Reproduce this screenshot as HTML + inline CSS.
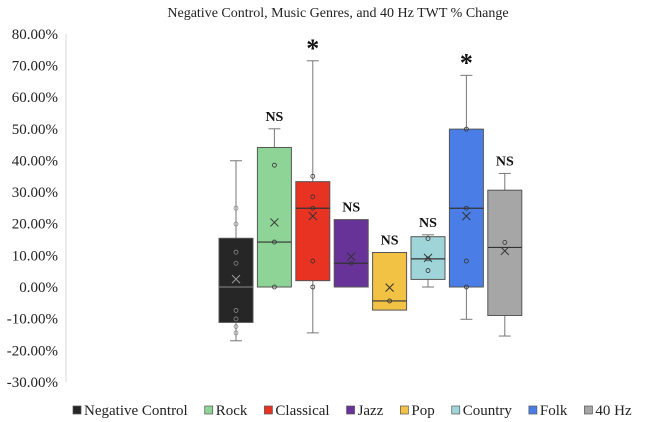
<!DOCTYPE html>
<html><head><meta charset="utf-8"><style>
body{margin:0;background:#fff}
svg{display:block;font-family:"Liberation Serif",serif}
</style></head><body>
<svg id="chart" width="672" height="422">
<text x="338" y="17" text-anchor="middle" font-size="14" fill="#222">Negative Control, Music Genres, and 40 Hz TWT % Change</text>
<g id="yaxis"></g>
<g id="boxes"></g>
<g id="legend"></g>
</svg>
<script>
const categories=["Negative Control","Rock","Classical","Jazz","Pop","Country","Folk","40 Hz"];
const colors=["#262626","#8fd497","#e83323","#673399","#f2c244","#9fd4d9","#4a7ee6","#a6a6a6"];
const whiskerLow=[-17,0,-14.5,0,-7.3,0,-10.2,-15.5];
const q1=[-11.2,0,2,0,-7.3,2.4,0,-9];
const medians=[0,14.2,24.9,7.5,-4.4,8.9,24.9,12.5];
const q3=[15.4,44.1,33.3,21.3,10.9,15.9,49.9,30.6];
const whiskerHigh=[39.9,50,71.5,21.3,10.9,16.5,66.9,35.9];
const means=[2.5,20.4,22.4,9.6,-0.2,9.2,22.4,11.4];
const points=[[24.9,19.9,11,7.5,-7.4,-10.1,-12.5,-14.5],[38.5,14.2,0],[35,28.5,24.9,8.2,0],[7.5],[-4.4],[15.3,8.9,5.2],[49.9,24.9,8.2,0],[14.1]];
const annotations=["","NS","*","NS","NS","NS","*","NS"];
const yTicks=[80,70,60,50,40,30,20,10,0,-10,-20,-30];
const NS="http://www.w3.org/2000/svg";
const y=v=>287-v*3.164;
const x=i=>236+i*38.4;
function mk(t,a,p){const e=document.createElementNS(NS,t);for(const k in a)e.setAttribute(k,a[k]);p.appendChild(e);return e;}
const ya=document.getElementById('yaxis');
yTicks.forEach(t=>{const e=mk('text',{x:58,y:y(t)+5,'text-anchor':'end','font-size':15,fill:'#222'},ya);e.textContent=t.toFixed(2)+'%';

});
mk('line',{x1:66,y1:y(80),x2:66,y2:y(-30),stroke:'#d9d9d9'},ya);
const bg=document.getElementById('boxes');
const hw=17;
categories.forEach((c,i)=>{
 const g=mk('g',{},bg);
 
 
 const cx=x(i);
 if(whiskerHigh[i]>q3[i]){mk('line',{x1:cx,x2:cx,y1:y(q3[i]),y2:y(whiskerHigh[i]),stroke:'#777'},g);mk('line',{x1:cx-6,x2:cx+6,y1:y(whiskerHigh[i]),y2:y(whiskerHigh[i]),stroke:'#777'},g);}
 if(whiskerLow[i]<q1[i]){mk('line',{x1:cx,x2:cx,y1:y(q1[i]),y2:y(whiskerLow[i]),stroke:'#777'},g);mk('line',{x1:cx-6,x2:cx+6,y1:y(whiskerLow[i]),y2:y(whiskerLow[i]),stroke:'#777'},g);}
 mk('rect',{x:cx-hw,y:y(q3[i]),width:hw*2,height:y(q1[i])-y(q3[i]),fill:colors[i],stroke:'#555','stroke-width':1},g);
 mk('line',{x1:cx-hw,x2:cx+hw,y1:y(medians[i]),y2:y(medians[i]),stroke:i==0?'#777':'#333','stroke-width':1.2},g);
 points[i].forEach(p=>mk('circle',{cx:cx,cy:y(p),r:2,fill:'none',stroke:i==0?'#888':'#333','stroke-width':0.8},g));
 const my=y(means[i]),mc=i==0?'#999':'#333';
 mk('path',{d:`M${cx-4} ${my-4}L${cx+4} ${my+4}M${cx+4} ${my-4}L${cx-4} ${my+4}`,stroke:mc,'stroke-width':1},g);
 if(annotations[i]){const a=annotations[i]=='*';
  const t=mk('text',{x:cx,y:y(whiskerHigh[i])-(a?4:8),'text-anchor':'middle','font-size':a?26:14,'font-weight':'bold',fill:'#111'},g);
  t.textContent=annotations[i];
  
  }
});
const lg=document.getElementById('legend');
let lx=73;
categories.forEach((c,i)=>{
 const g=mk('g',{},lg);
 
 
 mk('rect',{x:lx,y:406,width:8,height:8,fill:colors[i],stroke:'#555','stroke-width':0.7},g);
 const t=mk('text',{x:lx+11,y:415,'font-size':15,fill:'#222'},g);t.textContent=c;
 lx+=11+t.getComputedTextLength()+17;
});
</script>
</body></html>
